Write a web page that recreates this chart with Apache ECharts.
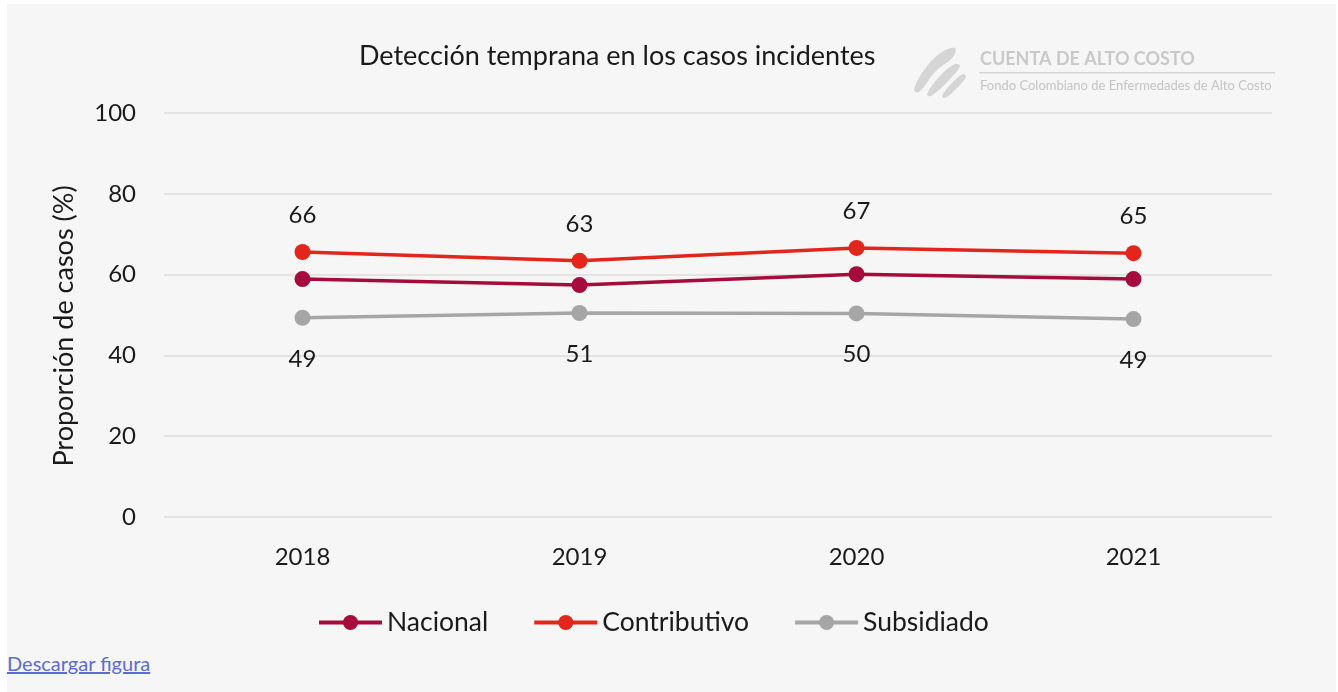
<!DOCTYPE html>
<html style="height: 100%; width: 100%">
<head>
  <meta charset="utf-8" />
  <style>
    body { margin: 0; background: #ffffff; font-family: Lato, "Noto Sans", sans-serif; }
    #box {
      position: absolute; left: 7px; top: 4px; right: 2px; bottom: 0px;
      background: #f6f6f6;
    }
    #chart-panel { position: absolute; left: -7px; top: -4px; width: 1338px; height: 640px; }
    #descargar {
      position: absolute; left: 0px; top: 647px;
      font-size: 20px; color: #5d6bd6; text-decoration: underline;
      font-family: Lato, "Noto Sans", sans-serif;
    }
  </style>
</head>
<body>
  <div id="box">
    <div id="chart-panel"></div>
    <a id="descargar" href="#">Descargar figura</a>
  </div>
  <script type="text/javascript" src="https://cdn.jsdelivr.net/npm/echarts@6.0.0/dist/echarts.min.js"></script>
  <script type="text/javascript">
    var years = ["2018", "2019", "2020", "2021"];
    var nacional = [58.9, 57.4, 60.1, 58.9];
    var contributivo = [65.6, 63.4, 66.6, 65.3];
    var subsidiado = [49.3, 50.5, 50.4, 49.0];
    var yTicks = [0, 20, 40, 60, 80, 100];

    var fontFam = "Lato, 'Noto Sans', sans-serif";
    var myChart = echarts.init(document.getElementById("chart-panel"));

    function lineSerie(name, data, color, label) {
      return {
        name: name,
        type: "line",
        data: data,
        symbol: "circle",
        symbolSize: 16,
        lineStyle: { width: 3.5, color: color },
        itemStyle: { color: color },
        label: label,
        emphasis: { disabled: true }
      };
    }

    var option = {
      animation: false,
      backgroundColor: "transparent",
      textStyle: { fontFamily: fontFam, color: "#1a1a1a" },
      title: {
        text: "Detección temprana en los casos incidentes",
        left: 354,
        top: 38,
        textStyle: { fontFamily: fontFam, fontSize: 27, fontWeight: "normal", color: "#1a1a1a" }
      },
      grid: { left: 164, right: 66, top: 113, bottom: 123 },
      xAxis: {
        type: "category",
        data: years,
        axisLine: { show: false },
        axisTick: { show: false },
        axisLabel: { fontSize: 24, color: "#1a1a1a", margin: 28, fontFamily: fontFam }
      },
      yAxis: {
        type: "value",
        min: yTicks[0],
        max: yTicks[yTicks.length - 1],
        interval: 20,
        name: "Proporción de casos (%)",
        nameLocation: "middle",
        nameGap: 86,
        nameTextStyle: { fontSize: 27, color: "#1a1a1a", fontFamily: fontFam, padding: [0, 22, 0, 0] },
        axisLine: { show: false },
        axisTick: { show: false },
        axisLabel: { fontSize: 24, color: "#1a1a1a", margin: 28, fontFamily: fontFam },
        splitLine: { lineStyle: { color: "#dcdcdc", width: 1.5 } }
      },
      legend: {
        top: 604,
        left: 312,
        itemWidth: 63,
        itemHeight: 19,
        itemGap: 44,
        lineStyle: { width: 4 },
        textStyle: { fontSize: 26.5, color: "#1a1a1a", fontFamily: fontFam },
        data: ["Nacional", "Contributivo", "Subsidiado"]
      },
      series: [
        lineSerie("Nacional", nacional, "#a60b3d", { show: false }),
        lineSerie("Contributivo", contributivo, "#e3261c", {
          show: true, position: "top", distance: 17, fontSize: 24, color: "#1a1a1a",
          formatter: function (p) { return Math.round(p.value); }
        }),
        lineSerie("Subsidiado", subsidiado, "#a6a6a6", {
          show: true, position: "bottom", distance: 21, fontSize: 24, color: "#1a1a1a",
          formatter: function (p) { return Math.round(p.value); }
        })
      ],
      graphic: [
        { type: "polygon", shape: { smooth: 0.4, points: [[914, 90], [924, 70], [942, 52], [955, 48], [953, 57], [936, 71], [919, 92]] }, style: { fill: "#d5d5d5" } },
        { type: "polygon", shape: { smooth: 0.4, points: [[927, 94], [940, 76], [955, 64], [960, 66], [950, 79], [931, 96]] }, style: { fill: "#d5d5d5" } },
        { type: "polygon", shape: { smooth: 0.4, points: [[942, 96], [952, 83], [963, 74], [966, 77], [956, 89], [945, 98]] }, style: { fill: "#d5d5d5" } },
        { type: "text", left: 980, top: 50, style: { text: "CUENTA DE ALTO COSTO", fontSize: 18, fontWeight: "bold", fill: "#c9c9c9", fontFamily: fontFam } },
        { type: "rect", shape: { x: 979, y: 72, width: 296, height: 1.5 }, style: { fill: "#d5d5d5" } },
        { type: "text", left: 980, top: 79, style: { text: "Fondo Colombiano de Enfermedades de Alto Costo", fontSize: 13, fill: "#c4c4c4", fontFamily: fontFam } }
      ]
    };
    myChart.setOption(option);
  </script>
</body>
</html>
